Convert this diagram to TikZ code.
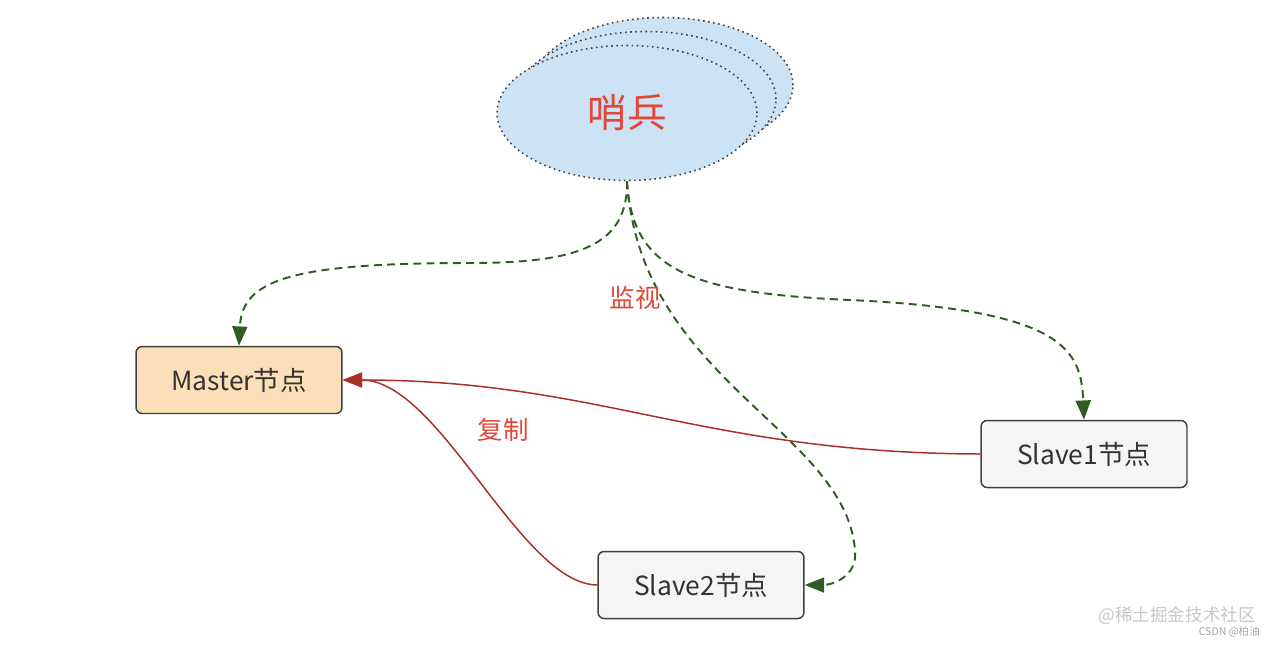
\documentclass[tikz,border=0pt]{standalone}
\usepackage{fontspec}
\setmainfont{Noto Sans CJK SC}
\usetikzlibrary{shapes.geometric,arrows.meta}

\definecolor{skyfill}{HTML}{CCE2F5}
\definecolor{wheatfill}{HTML}{FADFB8}
\definecolor{greyfill}{HTML}{F5F5F5}
\definecolor{boxtext}{HTML}{333333}
\definecolor{watchgreen}{HTML}{2E5C22}
\definecolor{copyred}{HTML}{A8312A}
\definecolor{labelred}{HTML}{E0483A}

\tikzset{
  sentinelshape/.style={ellipse,draw=black!75,dotted,line width=0.9pt,fill=skyfill,
    minimum width=5.2cm,minimum height=2.7cm,inner sep=0pt},
  nodebox/.style={draw=black!75,line width=0.85pt,rounded corners=3.5pt,text=boxtext,
    minimum width=4.12cm,minimum height=1.34cm,inner sep=0pt,font=\fontsize{15}{17}\selectfont},
  watch/.style={watchgreen,line width=1.1pt,dash pattern=on 4.5pt off 3pt,
    -{Triangle[length=11pt,width=8.5pt]}},
  copyline/.style={copyred,line width=0.85pt,-{Triangle[length=11pt,width=8.5pt]}},
  redlabel/.style={text=labelred,font=\fontsize{14.5}{16}\selectfont}
}

\begin{document}
\begin{tikzpicture}[x=0.02cm,y=-0.02cm]

\useasboundingbox (0,0) rectangle (1280,646);

% Sentinel
\node[sentinelshape] (sentinelC) at (663,85) {};
\node[sentinelshape] (sentinelB) at (646,99) {};
\node[sentinelshape,text=labelred,font=\fontsize{22.5}{25}\selectfont]
  (sentinel) at (627,113) {哨兵};

% Nodes
\node[nodebox,fill=wheatfill] (master) at (239,380) {Master节点};
\node[nodebox,fill=greyfill] (slave1) at (1084,454) {Slave1节点};
\node[nodebox,fill=greyfill] (slave2) at (701,585) {Slave2节点};

% Monitoring
\draw[watch] (sentinel.south) .. controls (628,245) and (580,263) .. (470,263)
  .. controls (290,263) and (242,280) .. (master.north);
\draw[watch] (sentinel.south) .. controls (632,270) and (690,293) .. (850,300)
  .. controls (1065,310) and (1081,350) .. (slave1.north);
\draw[watch] (sentinel.south) .. controls (640,380) and (845,430) .. (855,550)
  .. controls (858,578) and (830,585) .. (slave2.east);

\node[redlabel] (watchlabel) at (635,298) {监视};

% Replication
\draw[copyline] (slave1.west) .. controls (700,453) and (600,380) .. (master.east);
\draw[copyline] (slave2.west) .. controls (520,584) and (440,380) .. (master.east);

\node[redlabel] (copylabel) at (503,430) {复制};

% Watermark
\node[text=black!22,font=\fontsize{10}{12}\selectfont,anchor=east] (mark) at (1262,616) {@稀土掘金技术社区};
\node[text=black!35,font=\fontsize{6}{7}\selectfont,anchor=east] (csdn) at (1266,632) {CSDN @柏油};

\end{tikzpicture}
\end{document}
